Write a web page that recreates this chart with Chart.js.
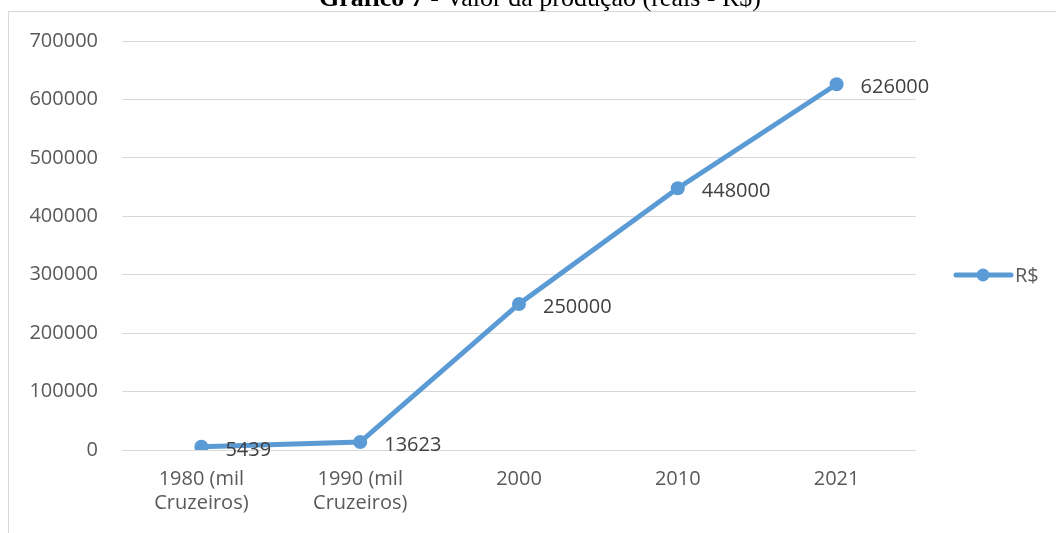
<!DOCTYPE html>
<html>
<head>
<meta charset="utf-8">
<script src="https://cdn.jsdelivr.net/npm/chart.js@4/dist/chart.umd.min.js"></script>
<style>
  html, body { margin: 0; padding: 0; background: #fff; }
  #wrap { width: 1056px; height: 533px; }
</style>
</head>
<body>
<div id="wrap"><canvas id="chart" width="1056" height="533"></canvas></div>
<script>
// values
const categories = [["1980 (mil", "Cruzeiros)"], ["1990 (mil", "Cruzeiros)"], "2000", "2010", "2021"];
const valores = [5439, 13623, 250000, 448000, 626000];
const seriesName = "R$";
const titleBold = "Gráfico 7";
const titleRest = " - Valor da produção (reais - R$)";

const lineColor = "#5b9bd5";
const FONT = "'Open Sans', 'Noto Sans', sans-serif";
const TITLE_FONT = "26px 'Liberation Serif', serif";

// frame + cut-off title at the top
const framePlugin = {
    id: "frame",
    beforeDraw(chart) {
        const ctx = chart.ctx;
        ctx.save();
        ctx.fillStyle = "#fff";
        ctx.fillRect(0, 0, chart.width, chart.height);
        ctx.strokeStyle = "#d9d9d9";
        ctx.lineWidth = 1;
        ctx.strokeRect(8.5, 11.5, 1200, 1200);
        ctx.fillStyle = "#000";
        ctx.textBaseline = "alphabetic";
        ctx.font = "bold " + TITLE_FONT;
        const w1 = ctx.measureText(titleBold).width;
        ctx.font = TITLE_FONT;
        const w2 = ctx.measureText(titleRest).width;
        const x0 = 540 - (w1 + w2) / 2;
        ctx.font = "bold " + TITLE_FONT;
        ctx.fillText(titleBold, x0, 6);
        ctx.font = TITLE_FONT;
        ctx.fillText(titleRest, x0 + w1, 6);
        ctx.restore();
    }
};

// value labels right of each point
const labelPlugin = {
    id: "valueLabels",
    afterDatasetsDraw(chart) {
        const ctx = chart.ctx;
        const meta = chart.getDatasetMeta(0);
        ctx.save();
        ctx.font = "20px " + FONT;
        ctx.fillStyle = "#404040";
        ctx.textAlign = "left";
        ctx.textBaseline = "middle";
        meta.data.forEach((pt, i) => {
            ctx.fillText(String(valores[i]), pt.x + 24, pt.y + 3);
        });
        ctx.restore();
    }
};

// legend on the right: line with marker + name
const legendPlugin = {
    id: "sideLegend",
    afterDraw(chart) {
        const ctx = chart.ctx;
        const y = 275;
        ctx.save();
        ctx.strokeStyle = lineColor;
        ctx.lineWidth = 5;
        ctx.lineCap = "round";
        ctx.beginPath();
        ctx.moveTo(956, y);
        ctx.lineTo(1011, y);
        ctx.stroke();
        ctx.fillStyle = lineColor;
        ctx.beginPath();
        ctx.arc(983, y, 6.5, 0, Math.PI * 2);
        ctx.fill();
        ctx.font = "20px " + FONT;
        ctx.fillStyle = "#595959";
        ctx.textBaseline = "middle";
        ctx.fillText(seriesName, 1015, y + 1);
        ctx.restore();
    }
};

new Chart(document.getElementById("chart").getContext("2d"), {
    type: "line",
    data: {
        labels: categories,
        datasets: [{
            label: seriesName,
            data: valores,
            borderColor: lineColor,
            backgroundColor: lineColor,
            borderWidth: 5,
            pointRadius: 7,
            pointHoverRadius: 7,
            pointBackgroundColor: lineColor,
            pointBorderWidth: 0,
            tension: 0,
        }],
    },
    options: {
        responsive: false,
        animation: false,
        layout: { padding: { left: 0, right: 140, top: 41, bottom: 0 } },
        plugins: {
            legend: { display: false },
            title: { display: false },
            tooltip: { enabled: false },
        },
        scales: {
            x: {
                offset: true,
                grid: { display: false, drawTicks: false },
                border: { display: false },
                ticks: {
                    color: "#595959",
                    font: { family: FONT, size: 20, lineHeight: 1.2 },
                    padding: 17,
                    maxRotation: 0,
                    autoSkip: false,
                },
                afterFit(scale) { scale.height = 83; },
            },
            y: {
                min: 0,
                max: 700000,
                grid: { color: "#d9d9d9", lineWidth: 1, drawTicks: false },
                border: { display: false },
                ticks: {
                    stepSize: 100000,
                    color: "#595959",
                    font: { family: FONT, size: 20 },
                    padding: 24,
                    callback: v => String(v),
                },
                afterFit(scale) { scale.width = 122; },
            },
        },
    },
    plugins: [framePlugin, labelPlugin, legendPlugin],
});
</script>
</body>
</html>
